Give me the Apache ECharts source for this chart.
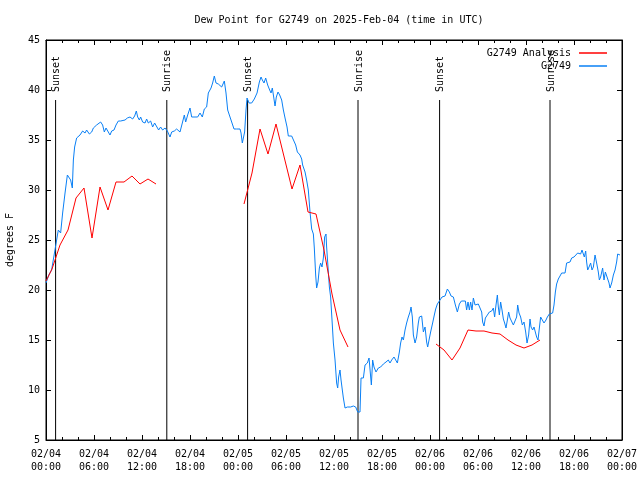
<!DOCTYPE html>
<html>
<head>
<meta charset="utf-8">
<script src="https://cdn.jsdelivr.net/npm/echarts@6/dist/echarts.min.js"></script>
<style>html,body{margin:0;padding:0;background:#fff}#c{width:640px;height:480px}</style>
</head>
<body>
<div id="c"></div>
<script>
// ---- data (hours since 2025-02-04 00:00 UTC) ----
const xTickLabels = ["02/04\n00:00","02/04\n06:00","02/04\n12:00","02/04\n18:00","02/05\n00:00","02/05\n06:00","02/05\n12:00","02/05\n18:00","02/06\n00:00","02/06\n06:00","02/06\n12:00","02/06\n18:00","02/07\n00:00"];
const yTickValues = [5,10,15,20,25,30,35,40,45];

const sunEventHours = [1.2, 15.1, 25.2, 39.0, 49.2, 63.0];
const sunEventLabels = ["Sunset","Sunrise","Sunset","Sunrise","Sunset","Sunrise"];

const analysisHours = [0.0,0.75,1.75,2.75,3.75,4.75,5.75,6.75,7.75,8.75,9.75,10.75,11.75,12.75,13.75, 19.0,
  24.75,25.75,26.75,27.75,28.75,30.75,31.75,32.75,33.75,34.75,35.75,36.75,37.75, 44.0,
  48.75,49.75,50.75,51.75,52.75,53.75,54.75,55.75,56.75,57.75,58.75,59.75,60.75,61.75];
const analysisValues = [20.9,22.1,24.5,26.0,29.2,30.2,25.2,30.3,28.0,30.8,30.8,31.4,30.6,31.1,30.6, null,
  28.6,31.7,36.1,33.6,36.6,30.1,32.5,27.8,27.6,24.0,19.6,16.0,14.3, null,
  14.6,14.0,13.0,14.2,16.0,15.9,15.9,15.7,15.6,15.0,14.5,14.2,14.5,15.0];

const stationHours = [0.0,0.35,0.7,1.33,1.54,1.83,2.08,2.38,2.67,2.92,3.08,3.29,3.42,3.58,3.83,4.25,4.58,4.88,5.08,5.42,5.71,5.92,6.33,6.54,6.83,7.08,7.29,7.5,7.71,8.0,8.21,8.5,8.75,9.04,9.33,9.58,9.88,10.17,10.5,10.83,11.08,11.29,11.46,11.67,11.83,12.08,12.38,12.58,12.79,13.08,13.33,13.58,13.83,14.08,14.33,14.58,14.88,15.17,15.5,15.71,16.04,16.33,16.75,17.04,17.29,17.46,17.71,18.0,18.21,18.63,18.96,19.25,19.54,19.79,20.08,20.29,20.63,20.83,21.04,21.25,21.54,21.96,22.17,22.29,22.5,22.71,23.0,23.21,23.5,23.83,24.25,24.38,24.54,24.71,24.83,25.0,25.13,25.38,25.71,26.04,26.38,26.67,26.88,27.04,27.25,27.46,27.71,27.96,28.13,28.29,28.46,28.63,28.79,29.0,29.21,29.46,29.67,29.88,30.13,30.29,30.5,30.71,30.96,31.21,31.42,31.75,31.96,32.08,32.38,32.58,32.79,33.0,33.21,33.42,33.54,33.71,33.83,34.0,34.17,34.33,34.5,34.67,34.83,35.0,35.08,35.25,35.42,35.58,35.79,35.92,36.13,36.33,36.46,36.58,36.75,36.88,37.04,37.17,37.38,37.67,37.83,38.08,38.42,38.71,38.96,39.25,39.38,39.67,39.88,40.17,40.38,40.5,40.67,40.83,41.0,41.25,41.54,41.83,42.17,42.5,42.79,43.0,43.21,43.5,43.67,43.92,44.17,44.33,44.5,44.67,44.88,45.08,45.29,45.5,45.63,45.79,45.92,46.13,46.33,46.54,46.67,46.96,47.17,47.38,47.58,47.71,47.88,48.08,48.33,48.54,48.71,48.92,49.17,49.5,49.88,50.17,50.42,50.63,50.92,51.17,51.42,51.67,51.92,52.17,52.42,52.58,52.75,52.92,53.08,53.25,53.42,53.63,53.83,54.04,54.25,54.46,54.58,54.75,54.92,55.17,55.42,55.71,55.92,56.08,56.25,56.42,56.54,56.67,56.83,57.0,57.17,57.33,57.5,57.67,57.83,58.0,58.21,58.42,58.67,58.83,58.96,59.13,59.33,59.54,59.75,59.96,60.13,60.33,60.5,60.63,60.83,61.0,61.17,61.33,61.5,61.67,61.83,62.0,62.25,62.5,62.67,62.92,63.08,63.33,63.5,63.67,63.83,64.04,64.25,64.46,64.67,64.88,65.08,65.29,65.5,65.71,66.0,66.25,66.46,66.67,66.83,67.0,67.17,67.29,67.46,67.58,67.71,67.88,68.08,68.25,68.42,68.63,68.83,69.04,69.17,69.33,69.58,69.75,69.92,70.17,70.38,70.5,70.71,70.92,71.13,71.33,71.46,71.63,71.75];
const stationValues = [20.7,21.5,22.0,25.0,26.0,25.7,27.7,29.7,31.5,31.7,31.0,30.2,33.0,34.3,35.2,35.5,35.9,35.7,36.0,35.6,35.8,36.2,36.5,36.3,36.8,36.5,35.8,36.2,36.0,35.5,35.9,36.0,36.5,36.9,36.9,37.1,37.0,37.2,37.3,37.1,37.4,37.9,37.3,37.0,37.3,36.8,36.7,37.1,36.7,36.9,36.3,36.7,36.5,36.0,36.3,36.0,36.2,35.9,35.3,35.8,35.9,36.1,35.8,36.7,37.5,36.8,37.5,38.2,37.3,37.3,37.3,37.7,37.3,38.1,38.3,39.7,40.2,40.7,41.4,40.7,40.6,40.3,40.5,40.9,39.7,38.0,37.3,36.8,36.1,36.1,36.1,35.7,34.7,34.5,35.8,38.0,39.2,38.7,38.7,39.1,39.7,40.8,41.3,41.0,40.7,41.2,40.5,40.0,39.7,40.2,39.3,38.4,39.3,39.8,39.5,39.0,38.0,37.2,36.3,35.4,35.6,35.4,35.6,34.5,33.8,33.5,33.1,32.5,31.8,31.0,30.0,27.8,26.1,25.6,24.2,21.5,20.2,20.8,22.2,22.7,22.3,23.2,25.3,25.6,24.3,22.3,20.3,19.3,16.5,14.7,13.0,10.7,10.2,11.3,12.0,11.0,10.0,9.2,8.2,8.3,8.2,8.3,8.4,8.3,7.8,7.8,11.2,11.2,12.5,12.7,13.2,13.4,10.5,13.0,12.3,11.8,12.2,12.3,12.6,12.8,13.0,12.7,13.0,13.3,13.4,12.7,13.8,14.7,15.3,15.0,16.0,16.7,17.3,17.8,18.3,17.3,15.5,14.7,15.3,16.7,17.3,17.4,15.8,16.3,14.8,14.3,15.0,15.8,16.7,17.5,18.1,18.6,18.8,19.3,19.4,20.1,19.8,19.4,19.3,18.5,17.8,18.6,18.9,18.8,18.9,18.0,18.8,18.0,18.8,18.0,19.2,18.5,18.3,18.6,18.2,17.8,16.8,16.4,17.2,17.5,17.8,17.9,18.2,17.3,18.5,19.5,18.3,17.5,18.8,18.0,17.1,16.7,16.2,17.0,17.8,17.2,17.0,16.5,16.7,17.3,18.5,17.7,17.3,16.5,16.8,15.8,14.7,15.5,17.1,16.3,16.0,16.3,16.2,15.3,15.0,16.2,17.3,17.1,16.7,17.0,17.3,17.6,17.7,17.7,18.5,19.8,20.6,21.1,21.4,21.7,21.8,21.7,22.7,22.5,22.8,23.2,23.3,23.3,23.7,23.8,23.6,24.0,23.8,23.3,23.9,22.8,22.0,22.3,22.7,22.0,22.3,23.5,22.7,21.8,21.0,21.3,22.2,21.0,21.8,21.7,20.7,20.2,20.7,21.5,22.0,22.8,23.6,23.4,23.5];

// ---- chart ----
const FONT = '"DejaVu Sans Mono", "Liberation Mono", monospace';
const zip = (a, b) => a.map((v, i) => [v, b[i] === null ? '-' : b[i]]);

const chart = echarts.init(document.getElementById('c'), null, {renderer: 'canvas'});

const baseX = {
  type: 'value', min: 0, max: 72, interval: 6,
  axisLine: {show: true, onZero: false, lineStyle: {color: '#000', width: 1}},
  axisTick: {show: true, inside: true, length: 5, lineStyle: {color: '#000'}},
  minorTick: {show: true, splitNumber: 3, length: 3, lineStyle: {color: '#000'}},
  splitLine: {show: false}
};
const baseY = {
  type: 'value', min: 5, max: 45, interval: 5,
  axisLine: {show: true, onZero: false, lineStyle: {color: '#000', width: 1}},
  axisTick: {show: true, inside: true, length: 5, lineStyle: {color: '#000'}},
  splitLine: {show: false}
};

chart.setOption({
  animation: false,
  backgroundColor: '#fff',
  title: {
    text: 'Dew Point for G2749 on 2025-Feb-04 (time in UTC)',
    left: 334, top: 10, textAlign: 'center',
    textStyle: {fontFamily: FONT, fontSize: 10, fontWeight: 'normal', color: '#000'}
  },
  legend: [
    {data: ['G2749 Analysis'], right: 28, top: 43, align: 'right', icon: 'rect', itemWidth: 28, itemHeight: 1.5, itemGap: 0,
     textStyle: {fontFamily: FONT, fontSize: 10, color: '#000', padding: [0, 3, 0, 0]}},
    {data: ['G2749'], right: 28, top: 56, align: 'right', icon: 'rect', itemWidth: 28, itemHeight: 1.5, itemGap: 0,
     textStyle: {fontFamily: FONT, fontSize: 10, color: '#000', padding: [0, 3, 0, 0]}}
  ],
  grid: {left: 46, right: 18, top: 40, bottom: 40, show: true, borderColor: '#000', borderWidth: 1,
    containLabel: false, outerBoundsMode: 'none'},
  xAxis: [
    Object.assign({}, baseX, {position: 'bottom',
      axisLabel: {show: true, margin: 8, fontFamily: FONT, fontSize: 10, color: '#000', lineHeight: 13,
        formatter: v => xTickLabels[Math.round(v / 6)]}}),
    Object.assign({}, baseX, {position: 'top', axisLabel: {show: false}})
  ],
  yAxis: [
    Object.assign({}, baseY, {position: 'left', name: 'degrees F', nameLocation: 'middle', nameGap: 31,
      nameTextStyle: {fontFamily: FONT, fontSize: 10, color: '#000'},
      axisLabel: {show: true, margin: 6, fontFamily: FONT, fontSize: 10, color: '#000'}}),
    Object.assign({}, baseY, {position: 'right', axisLabel: {show: false}})
  ],
  series: [
    {
      name: 'G2749 Analysis', type: 'line', data: zip(analysisHours, analysisValues),
      showSymbol: false, connectNulls: false, color: '#ff0000',
      lineStyle: {color: '#ff0000', width: 1}, z: 3
    },
    {
      name: 'G2749', type: 'line', data: zip(stationHours, stationValues),
      showSymbol: false, color: '#0a80f5',
      lineStyle: {color: '#0a80f5', width: 1}, z: 2
    },
    {
      type: 'custom', data: sunEventHours.map((h, i) => [h, i]), clip: false, z: 1,
      renderItem: (params, api) => {
        const h = api.value(0);
        const top = api.coord([h, 39]);
        const bot = api.coord([h, 5]);
        return {
          type: 'group',
          children: [
            {type: 'line', shape: {x1: top[0], y1: top[1], x2: bot[0], y2: bot[1]},
             style: {stroke: '#000', lineWidth: 1}},
            {type: 'text', x: top[0] + 1, y: top[1] - 8, rotation: Math.PI / 2,
             style: {text: sunEventLabels[params.dataIndex], fill: '#000', font: '10px ' + FONT,
               textAlign: 'left', textVerticalAlign: 'middle'}}
          ]
        };
      }
    }
  ]
});
</script>
</body>
</html>
